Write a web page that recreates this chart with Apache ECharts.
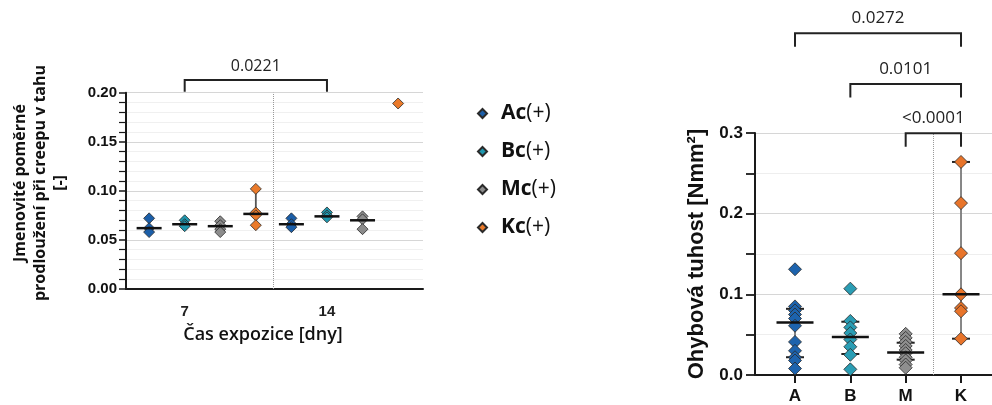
<!DOCTYPE html>
<html><head><meta charset="utf-8">
<script src="https://cdn.jsdelivr.net/npm/echarts@6/dist/echarts.min.js"></script>
<style>html,body{margin:0;padding:0;background:#fff}#c{width:992px;height:405px}</style>
</head><body><div id="c"></div>
<script>
// ---------- LEFT CHART DATA ----------
const leftSeriesNames = ['Ac(+)', 'Bc(+)', 'Mc(+)', 'Kc(+)'];
const leftDayLabels = ['7', '14'];
const leftDaySlots = [2, 6];           // slot index used for the day label
const leftSlots = [[1, 5], [2, 6], [3, 7], [4, 8]]; // slot of each series for day 7 / day 14
const ac7 = [0.072, 0.062, 0.058];
const ac14 = [0.072, 0.066, 0.063];
const bc7 = [0.070, 0.066, 0.064];
const bc14 = [0.078, 0.075, 0.073];
const mc7 = [0.069, 0.065, 0.061, 0.058];
const mc14 = [0.074, 0.071, 0.061];
const kc7 = [0.102, 0.078, 0.075, 0.065];
const kc14 = [0.189];
const leftMedians = [0.062, 0.066, 0.064, 0.0765, 0.066, 0.074, 0.070, null];
const leftLow = [0.058, 0.064, 0.058, 0.065, 0.063, 0.073, 0.061, null];
const leftHigh = [0.072, 0.070, 0.069, 0.102, 0.072, 0.078, 0.074, null];
const leftBracketPairs = [[2, 6]];
const leftBracketLabels = ['0.0221'];
const leftBracketLevels = [0.2129];

// ---------- RIGHT CHART DATA ----------
const rightCategories = ['A', 'B', 'M', 'K'];
const rightA = [0.131, 0.085, 0.080, 0.075, 0.070, 0.061, 0.041, 0.030, 0.022, 0.018, 0.008];
const rightB = [0.107, 0.067, 0.059, 0.052, 0.044, 0.035, 0.025, 0.007];
const rightM = [0.051, 0.046, 0.041, 0.036, 0.031, 0.027, 0.022, 0.018, 0.013, 0.009];
const rightK = [0.264, 0.213, 0.151, 0.100, 0.083, 0.079, 0.045];
const rightMedians = [0.065, 0.047, 0.028, 0.100];
const rightLow = [0.022, 0.026, 0.019, 0.045];
const rightHigh = [0.082, 0.066, 0.040, 0.264];
const rightBracketPairs = [[1, 4], [2, 4], [3, 4]];
const rightBracketLabels = ['0.0272', '0.0101', '<0.0001'];
const rightBracketLevels = [0.4234, 0.3606, 0.2995];

// ---------- STYLE ----------
const leftColors = ['#1b5ea8', '#1f97ae', '#8c8c8c', '#ea7a2a'];
const rightColors = ['#1d63ad', '#2a9db4', '#8f8f8f', '#e8742a'];
const numFont = '"Liberation Sans", Arial, sans-serif';
const txtFont = '"Open Sans", "Noto Sans", sans-serif';

const chart = echarts.init(document.getElementById('c'), null, {renderer: 'canvas'});

function pts(slot, vals) { return vals.map(v => [slot, v]); }
const leftGroups = [[ac7, ac14], [bc7, bc14], [mc7, mc14], [kc7, kc14]];
const rightGroups = [rightA, rightB, rightM, rightK];

function bracketRenderer(labels, legPx, textGap, fontSize) {
  return function (params, api) {
    const a = api.coord([api.value(0), api.value(2)]);
    const b = api.coord([api.value(1), api.value(2)]);
    return {
      type: 'group', children: [
        {type: 'polyline', shape: {points: [[a[0], a[1] + legPx], [a[0], a[1]], [b[0], b[1]], [b[0], b[1] + legPx]]},
          style: {stroke: '#222', lineWidth: 2, fill: null}},
        {type: 'text', x: (a[0] + b[0]) / 2, y: a[1] - textGap,
          style: {text: labels[params.dataIndex], align: 'center', verticalAlign: 'middle',
            font: fontSize + 'px ' + txtFont, fill: '#222'}}
      ]
    };
  };
}
function medianRenderer(half) {
  return function (params, api) {
    const p = api.coord([api.value(0), api.value(1)]);
    return {type: 'line', shape: {x1: p[0] - half, y1: p[1], x2: p[0] + half, y2: p[1]},
      style: {stroke: '#111', lineWidth: 2.5}};
  };
}
function whiskerRenderer(cap, lineColor) {
  return function (params, api) {
    const lo = api.coord([api.value(0), api.value(1)]);
    const hi = api.coord([api.value(0), api.value(2)]);
    const ch = [{type: 'line', shape: {x1: lo[0], y1: lo[1], x2: hi[0], y2: hi[1]}, style: {stroke: lineColor, lineWidth: 1.8}}];
    if (cap > 0) {
      ch.push({type: 'line', shape: {x1: lo[0] - cap, y1: lo[1], x2: lo[0] + cap, y2: lo[1]}, style: {stroke: '#222', lineWidth: 2}});
      ch.push({type: 'line', shape: {x1: hi[0] - cap, y1: hi[1], x2: hi[0] + cap, y2: hi[1]}, style: {stroke: '#222', lineWidth: 2}});
    }
    return {type: 'group', children: ch};
  };
}

const series = [];
// left scatter
leftSeriesNames.forEach((name, i) => {
  const data = pts(leftSlots[i][0], leftGroups[i][0]).concat(pts(leftSlots[i][1], leftGroups[i][1]));
  series.push({
    name, type: 'scatter', xAxisIndex: 0, yAxisIndex: 0, symbol: 'diamond', symbolSize: 11, z: 3,
    itemStyle: {color: leftColors[i], borderColor: '#2a2a2a', borderWidth: 0.8, opacity: 1},
    data,
    markLine: i === 0 ? {silent: true, symbol: 'none', label: {show: false},
      lineStyle: {type: 'dotted', color: '#999', width: 1}, data: [{xAxis: 4.5}]} : undefined
  });
});
const leftSlotIdx = [1, 2, 3, 4, 5, 6, 7, 8];
series.push({type: 'custom', xAxisIndex: 0, yAxisIndex: 0, z: 2, clip: false,
  renderItem: whiskerRenderer(0, '#555'),
  data: leftSlotIdx.map((s, k) => leftLow[k] == null ? null : [s, leftLow[k], leftHigh[k]]).filter(Boolean)});
series.push({type: 'custom', xAxisIndex: 0, yAxisIndex: 0, z: 4, clip: false,
  renderItem: medianRenderer(12.5),
  data: leftSlotIdx.map((s, k) => leftMedians[k] == null ? null : [s, leftMedians[k]]).filter(Boolean)});
series.push({type: 'custom', xAxisIndex: 0, yAxisIndex: 0, z: 5, clip: false,
  renderItem: bracketRenderer(leftBracketLabels, 11.7, 13.5, 16),
  data: leftBracketPairs.map((p, k) => [p[0], p[1], leftBracketLevels[k]])});

// right
rightCategories.forEach((c, i) => {
  series.push({
    name: c, type: 'scatter', xAxisIndex: 1, yAxisIndex: 1, symbol: 'diamond', symbolSize: 13, z: 3,
    itemStyle: {color: rightColors[i], borderColor: '#2a2a2a', borderWidth: 0.8, opacity: 1},
    data: pts(i + 1, rightGroups[i]),
    markLine: i === 0 ? {silent: true, symbol: 'none', label: {show: false},
      lineStyle: {type: 'dotted', color: '#999', width: 1}, data: [{xAxis: 3.5}]} : undefined
  });
});
series.push({type: 'custom', xAxisIndex: 1, yAxisIndex: 1, z: 2, clip: false,
  renderItem: whiskerRenderer(9, '#7a7a7a'),
  data: rightCategories.map((c, i) => [i + 1, rightLow[i], rightHigh[i]])});
series.push({type: 'custom', xAxisIndex: 1, yAxisIndex: 1, z: 4, clip: false,
  renderItem: medianRenderer(18.5),
  data: rightCategories.map((c, i) => [i + 1, rightMedians[i]])});
series.push({type: 'custom', xAxisIndex: 1, yAxisIndex: 1, z: 5, clip: false,
  renderItem: bracketRenderer(rightBracketLabels, 13.4, 15, 17),
  data: rightBracketPairs.map((p, k) => [p[0], p[1], rightBracketLevels[k]])});

const option = {
  animation: false,
  backgroundColor: '#fff',
  grid: [
    {left: 126, top: 92.7, width: 297, height: 196.3, containLabel: false},
    {left: 755, top: 132.9, width: 237, height: 242.1, containLabel: false}
  ],
  xAxis: [
    {type: 'value', gridIndex: 0, min: 0.35, max: 8.7,
      axisLine: {show: true, onZero: false, lineStyle: {color: '#1a1a1a', width: 2}},
      axisTick: {show: false}, splitLine: {show: false},
      axisLabel: {customValues: leftDaySlots, margin: 15, color: '#222', fontFamily: numFont, fontWeight: 'bold', fontSize: 15,
        formatter: v => leftDayLabels[leftDaySlots.indexOf(Math.round(v))] || ''}},
    {type: 'value', gridIndex: 1, min: 0.277, max: 4.56,
      axisLine: {show: true, onZero: false, lineStyle: {color: '#1a1a1a', width: 2}},
      axisTick: {show: true, customValues: [1, 2, 3, 4], length: 8, lineStyle: {color: '#1a1a1a', width: 2}},
      splitLine: {show: false},
      axisLabel: {customValues: [1, 2, 3, 4], margin: 13, color: '#111', fontFamily: numFont, fontWeight: 'bold', fontSize: 17,
        formatter: v => rightCategories[Math.round(v) - 1] || ''}}
  ],
  yAxis: [
    {type: 'value', gridIndex: 0, min: 0, max: 0.2, interval: 0.05,
      axisLine: {show: true, lineStyle: {color: '#1a1a1a', width: 2}},
      axisTick: {show: true, length: 7, lineStyle: {color: '#1a1a1a', width: 1.5}},
      minorTick: {show: true, splitNumber: 5, length: 7, lineStyle: {color: '#1a1a1a', width: 1.2}},
      splitLine: {show: true, lineStyle: {color: '#d6d6d6', width: 1}},
      minorSplitLine: {show: true, lineStyle: {color: '#f0f0f0', width: 1}},
      axisLabel: {margin: 9, color: '#111', fontFamily: numFont, fontWeight: 'bold', fontSize: 15,
        formatter: v => v.toFixed(2)}},
    {type: 'value', gridIndex: 1, min: 0, max: 0.3, interval: 0.1,
      axisLine: {show: true, lineStyle: {color: '#1a1a1a', width: 2}},
      axisTick: {show: true, length: 9, lineStyle: {color: '#1a1a1a', width: 1.8}},
      minorTick: {show: true, splitNumber: 2, length: 9, lineStyle: {color: '#1a1a1a', width: 1.8}},
      splitLine: {show: true, lineStyle: {color: '#d6d6d6', width: 1}},
      minorSplitLine: {show: true, lineStyle: {color: '#eeeeee', width: 1}},
      axisLabel: {margin: 12, color: '#111', fontFamily: numFont, fontWeight: 'bold', fontSize: 17,
        formatter: v => v.toFixed(1)}}
  ],
  legend: {
    data: leftSeriesNames, orient: 'vertical', left: 472, top: 98,
    icon: 'diamond', itemWidth: 9, itemHeight: 9, itemGap: 17,
    formatter: name => '{b|' + name.slice(0, 2) + '}{n|' + name.slice(2) + '}',
    textStyle: {rich: {
      b: {fontFamily: txtFont, fontWeight: 'bold', fontSize: 21, color: '#111', lineHeight: 24, padding: [0, 0, 0, 9]},
      n: {fontFamily: txtFont, fontWeight: 'normal', fontSize: 21, color: '#111', lineHeight: 24}
    }}
  },
  graphic: [
    {type: 'text', x: 40, y: 183, rotation: Math.PI / 2,
      style: {text: 'Jmenovité poměrné\nprodloužení při creepu v tahu\n[-]', align: 'center', verticalAlign: 'middle',
        font: 'bold 16px ' + txtFont, lineHeight: 20, fill: '#111'}},
    {type: 'text', x: 263, y: 335,
      style: {text: 'Čas expozice [dny]', align: 'center', verticalAlign: 'middle',
        font: '600 18px ' + txtFont, fill: '#111'}},
    {type: 'text', x: 697, y: 254, rotation: Math.PI / 2,
      style: {text: 'Ohybová tuhost [Nmm²]', align: 'center', verticalAlign: 'middle',
        font: 'bold 22px ' + numFont, fill: '#111'}}
  ],
  series
};
chart.setOption(option);
</script>
</body></html>
